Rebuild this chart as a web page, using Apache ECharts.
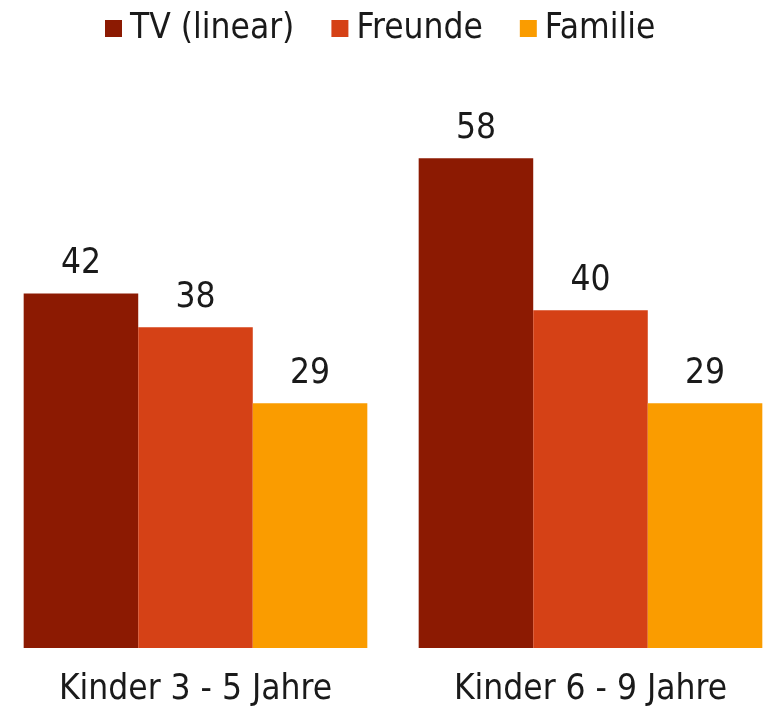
<!DOCTYPE html>
<html>
<head>
<meta charset="utf-8">
<script src="https://cdn.jsdelivr.net/npm/echarts@6/dist/echarts.min.js"></script>
<style>
  html, body { margin: 0; padding: 0; background: #fff; overflow: hidden; }
  /* Die Zeichenfläche ist etwas breiter als das Fenster: rechte Balkengruppe reicht bis an den Rand */
  #chart { width: 790px; height: 707px; margin-left: -2px; }
</style>
</head>
<body>
<div id="chart"></div>
<script>
// Daten
var categories = ['Kinder 3 - 5 Jahre', 'Kinder 6 - 9 Jahre'];
var seriesNames = ['TV (linear)', 'Freunde', 'Familie'];
var tvValues = [42, 58];
var freundeValues = [38, 40];
var familieValues = [29, 29];
var colors = ['#8C1A02', '#D54116', '#FA9C00'];

var chart = echarts.init(document.getElementById('chart'));
var font = '"DejaVu Sans Condensed", "DejaVu Sans", sans-serif';

function bar(name, data, color) {
    return {
        name: name,
        type: 'bar',
        data: data,
        barGap: '0%',
        barCategoryGap: '13%',
        itemStyle: { color: color },
        label: {
            show: true,
            position: 'top',
            distance: 12,
            color: '#1a1a1a',
            fontSize: 35,
            fontFamily: font
        }
    };
}

var option = {
    animation: false,
    textStyle: { fontFamily: font },
    legend: {
        top: 6,
        left: 102,
        itemWidth: 17,
        itemHeight: 17,
        itemGap: 37,
        icon: 'rect',
        textStyle: { fontSize: 35, color: '#1a1a1a', fontFamily: font, padding: [0, 0, 0, 3] },
        data: seriesNames
    },
    grid: { left: 0, right: 0, top: 57, bottom: 59 },
    xAxis: {
        type: 'category',
        data: categories,
        axisLine: { show: false },
        axisTick: { show: false },
        axisLabel: { fontSize: 35, color: '#1a1a1a', margin: 24, fontFamily: font }
    },
    yAxis: {
        type: 'value',
        min: 0,
        max: 70,
        show: false,
        splitLine: { show: false }
    },
    series: [
        bar(seriesNames[0], tvValues, colors[0]),
        bar(seriesNames[1], freundeValues, colors[1]),
        bar(seriesNames[2], familieValues, colors[2])
    ]
};

chart.setOption(option);
</script>
</body>
</html>
